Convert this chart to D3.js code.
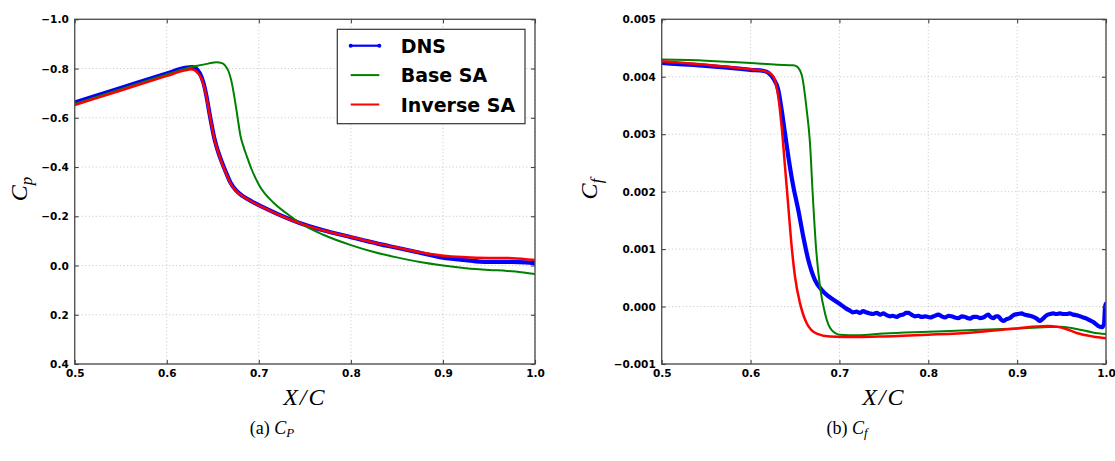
<!DOCTYPE html>
<html>
<head>
<meta charset="utf-8">
<script src="https://cdn.jsdelivr.net/npm/d3@7"></script>
<style>
  html, body { margin: 0; padding: 0; background: #fff; }
  svg { display: block; }
</style>
</head>
<body>
<svg id="fig" width="1115" height="461"></svg>
<script>
// ---- tick values ----
const xTicks  = [0.5, 0.6, 0.7, 0.8, 0.9, 1.0];
const cpTicks = [-1.0, -0.8, -0.6, -0.4, -0.2, 0.0, 0.2, 0.4];
const cfTicks = [-0.001, 0.000, 0.001, 0.002, 0.003, 0.004, 0.005];

// ---- series labels ----
const seriesNames = ["DNS", "Base SA", "Inverse SA"];

// ---- pressure coefficient, [X/C, Cp] ----
const cpDNS = [
  [0.500,-0.662],[0.550,-0.721],[0.600,-0.780],[0.620,-0.803],[0.628,-0.806],[0.632,-0.800],
  [0.636,-0.780],[0.640,-0.740],[0.643,-0.690],[0.647,-0.606],[0.652,-0.512],[0.656,-0.460],
  [0.660,-0.418],[0.665,-0.372],[0.669,-0.338],[0.675,-0.306],[0.683,-0.281],[0.693,-0.259],
  [0.705,-0.236],[0.720,-0.210],[0.745,-0.172],[0.770,-0.143],[0.800,-0.115],[0.830,-0.088],
  [0.850,-0.072],[0.875,-0.052],[0.900,-0.032],[0.925,-0.022],[0.940,-0.016],[0.950,-0.015],
  [0.975,-0.015],[0.990,-0.013],[1.000,-0.010]
];
const cpBase = [
  [0.500,-0.656],[0.550,-0.716],[0.600,-0.776],[0.620,-0.799],[0.632,-0.810],[0.645,-0.820],
  [0.654,-0.826],[0.660,-0.822],[0.663,-0.814],[0.667,-0.790],[0.670,-0.753],[0.674,-0.672],
  [0.677,-0.600],[0.680,-0.528],[0.683,-0.487],[0.687,-0.443],[0.692,-0.392],[0.701,-0.322],
  [0.716,-0.255],[0.730,-0.212],[0.745,-0.172],[0.770,-0.125],[0.800,-0.083],[0.825,-0.055],
  [0.850,-0.033],[0.875,-0.014],[0.900,0.000],[0.925,0.011],[0.950,0.018],[0.970,0.022],
  [0.985,0.027],[1.000,0.035]
];
const cpInv = [
  [0.500,-0.652],[0.550,-0.711],[0.600,-0.770],[0.620,-0.793],[0.626,-0.797],[0.630,-0.794],
  [0.634,-0.780],[0.638,-0.757],[0.643,-0.686],[0.647,-0.604],[0.652,-0.510],[0.656,-0.458],
  [0.660,-0.415],[0.665,-0.370],[0.669,-0.335],[0.675,-0.304],[0.683,-0.280],[0.693,-0.258],
  [0.705,-0.235],[0.720,-0.209],[0.745,-0.171],[0.770,-0.142],[0.800,-0.116],[0.830,-0.089],
  [0.850,-0.073],[0.875,-0.054],[0.900,-0.040],[0.925,-0.034],[0.950,-0.031],[0.975,-0.030],
  [1.000,-0.022]
];

// ---- skin friction coefficient, [X/C, Cf] ----
const cfDNS = [
  [0.500,0.00424],[0.520,0.00422],[0.550,0.00419],[0.580,0.00415],[0.600,0.00412],[0.615,0.00410],
  [0.620,0.00407],[0.6256,0.00397],[0.6312,0.00377],[0.635,0.00342],[0.6388,0.00301],[0.6425,0.00261],
  [0.6481,0.00209],[0.6537,0.00168],[0.6594,0.00121],[0.665,0.00081],[0.6725,0.00046],[0.680,0.00029],
  [0.686,0.00020],[0.6913,0.00014],[0.698,0.00007],[0.7044,0.00000],[0.708,-0.00004],[0.7119,-0.00007],
  [0.715,-0.00010],[0.7194,-0.00009],[0.723,-0.00011],[0.7269,-0.00008],[0.730,-0.00010],[0.7344,-0.00012],
  [0.738,-0.00013],[0.7419,-0.00011],[0.746,-0.00014],[0.7494,-0.00012],[0.753,-0.00015],[0.7569,-0.00017],
  [0.760,-0.00016],[0.7644,-0.00018],[0.768,-0.00015],[0.7719,-0.00014],[0.775,-0.00011],[0.7775,-0.00011],
  [0.781,-0.00014],[0.785,-0.00017],[0.789,-0.00016],[0.7925,-0.00018],[0.797,-0.00017],[0.8019,-0.00019],
  [0.806,-0.00017],[0.8113,-0.00014],[0.815,-0.00017],[0.8188,-0.00019],[0.823,-0.00016],[0.8263,-0.00017],
  [0.830,-0.00019],[0.8338,-0.00020],[0.838,-0.00017],[0.8413,-0.00018],[0.844,-0.00020],[0.8469,-0.00021],
  [0.851,-0.00018],[0.8544,-0.00018],[0.858,-0.00020],[0.8619,-0.00019],[0.865,-0.00016],[0.8676,-0.00014],
  [0.870,-0.00018],[0.8732,-0.00020],[0.876,-0.00017],[0.8788,-0.00017],[0.8815,-0.00022],[0.8844,-0.00025],
  [0.888,-0.00022],[0.8919,-0.00020],[0.895,-0.00016],[0.8976,-0.00014],[0.901,-0.00013],[0.9051,-0.00012],
  [0.908,-0.00014],[0.9107,-0.00015],[0.914,-0.00016],[0.9182,-0.00018],[0.922,-0.00021],[0.9257,-0.00025],
  [0.929,-0.00021],[0.9332,-0.00015],[0.937,-0.00013],[0.9407,-0.00012],[0.944,-0.00013],[0.9482,-0.00012],
  [0.952,-0.00013],[0.9557,-0.00013],[0.959,-0.00012],[0.9632,-0.00014],[0.967,-0.00015],[0.9707,-0.00017],
  [0.9745,-0.00019],[0.9782,-0.00021],[0.982,-0.00024],[0.9857,-0.00027],[0.989,-0.00031],[0.9913,-0.00034],
  [0.9951,-0.00036],[0.9977,-0.00031],[0.999,0.00000],[1.000,0.00005]
];
const cfBase = [
  [0.500,0.00430],[0.550,0.00428],[0.600,0.00424],[0.630,0.00421],[0.648,0.00420],[0.652,0.00418],
  [0.6576,0.00403],[0.6632,0.00342],[0.6669,0.00284],[0.6699,0.00197],[0.6736,0.00104],[0.6781,0.00035],
  [0.6838,-0.00012],[0.6913,-0.00041],[0.7007,-0.00049],[0.720,-0.00050],[0.750,-0.00047],[0.800,-0.00044],
  [0.850,-0.00041],[0.900,-0.00038],[0.930,-0.00036],[0.950,-0.00035],[0.967,-0.00039],[0.985,-0.00045],
  [1.000,-0.00048]
];
const cfInv = [
  [0.500,0.00427],[0.550,0.00421],[0.588,0.00415],[0.600,0.00413],[0.618,0.00409],[0.6256,0.00400],
  [0.6312,0.00365],[0.635,0.00313],[0.6388,0.00243],[0.6425,0.00174],[0.6463,0.00104],[0.650,0.00052],
  [0.6556,0.00006],[0.6632,-0.00029],[0.6744,-0.00047],[0.6894,-0.00052],[0.720,-0.00053],[0.750,-0.00052],
  [0.800,-0.00049],[0.850,-0.00045],[0.880,-0.00041],[0.900,-0.00038],[0.934,-0.00034],[0.945,-0.00035],
  [0.955,-0.00039],[0.967,-0.00046],[0.985,-0.00052],[1.000,-0.00055]
];

// ---- drawing ----
const svg = d3.select("#fig");
const tickFont = "'DejaVu Sans', sans-serif";
const mathFont = "'Liberation Serif', 'DejaVu Serif', serif";
const colors = { DNS: "#0000ff", "Base SA": "#008000", "Inverse SA": "#ff0000" };
const widths = { DNS: 4.2, "Base SA": 2, "Inverse SA": 2.5 };

function drawPanel(p) {
  const x = d3.scaleLinear().domain([0.5, 1.0]).range([p.left, p.right]);
  const y = d3.scaleLinear().domain(p.yDomain).range([p.top, p.bottom]);
  const g = svg.append("g");

  // dotted grid
  const grid = g.append("g").attr("stroke", "#c4c4c4").attr("stroke-width", 1)
    .attr("stroke-dasharray", "1,2.5");
  grid.selectAll(".gx").data(xTicks).join("line")
    .attr("x1", d => x(d)).attr("x2", d => x(d))
    .attr("y1", p.top).attr("y2", p.bottom);
  grid.selectAll(".gy").data(p.yTicks).join("line")
    .attr("y1", d => y(d)).attr("y2", d => y(d))
    .attr("x1", p.left).attr("x2", p.right);

  // clip region for curves
  g.append("clipPath").attr("id", p.id + "-clip")
    .append("rect").attr("x", p.left).attr("y", p.top)
    .attr("width", p.right - p.left).attr("height", p.bottom - p.top);

  const line = d3.line().x(d => x(d[0])).y(d => y(d[1])).curve(d3.curveMonotoneX);
  const curves = g.append("g").attr("clip-path", `url(#${p.id}-clip)`);
  p.series.forEach((s, i) => {
    const name = seriesNames[i];
    curves.append("path").datum(s)
      .attr("fill", "none")
      .attr("stroke", colors[name])
      .attr("stroke-width", widths[name])
      .attr("stroke-linejoin", "round")
      .attr("stroke-linecap", "round")
      .attr("d", line);
  });

  // frame
  g.append("rect").attr("x", p.left).attr("y", p.top)
    .attr("width", p.right - p.left).attr("height", p.bottom - p.top)
    .attr("fill", "none").attr("stroke", "#555").attr("stroke-width", 1.4);

  const styleAxis = sel => {
    sel.select(".domain").remove();
    sel.selectAll(".tick line").attr("stroke", "#444").attr("stroke-width", 1.1);
    sel.attr("font-family", tickFont).attr("font-size", 10.5).attr("font-weight", "bold");
    sel.selectAll(".tick text").attr("fill", "#000");
  };

  g.append("g").attr("transform", `translate(${p.left},0)`)
    .call(d3.axisLeft(y).tickValues(p.yTicks).tickFormat(p.fmt)
      .tickSizeInner(-4).tickSizeOuter(0).tickPadding(6))
    .call(styleAxis)
    .selectAll(".tick text").attr("dy", "0.35em");
  g.append("g").attr("transform", `translate(${p.right},0)`)
    .call(d3.axisRight(y).tickValues(p.yTicks).tickFormat("")
      .tickSizeInner(-4).tickSizeOuter(0))
    .call(styleAxis);
  g.append("g").attr("transform", `translate(0,${p.bottom})`)
    .call(d3.axisBottom(x).tickValues(xTicks).tickFormat(d3.format(".1f"))
      .tickSizeInner(-4).tickSizeOuter(0).tickPadding(6))
    .call(styleAxis);
  g.append("g").attr("transform", `translate(0,${p.top})`)
    .call(d3.axisTop(x).tickValues(xTicks).tickFormat("")
      .tickSizeInner(-4).tickSizeOuter(0))
    .call(styleAxis);

  // x-axis title X/C
  svg.append("text")
    .attr("x", (p.left + p.right) / 2).attr("y", 405)
    .attr("text-anchor", "middle")
    .attr("font-family", mathFont).attr("font-style", "italic")
    .attr("font-size", 24).attr("letter-spacing", 2)
    .text("X/C");

  // y-axis title
  const yt = svg.append("text")
    .attr("transform", `translate(${p.ylabX},189) rotate(-90)`)
    .attr("text-anchor", "middle")
    .attr("font-family", mathFont).attr("font-style", "italic")
    .attr("font-size", 24);
  yt.append("tspan").text("C");
  yt.append("tspan").attr("font-size", 17).attr("dy", 5).text(p.ySub);

  // caption below the panel
  const cap = svg.append("text")
    .attr("x", p.capX).attr("y", 434)
    .attr("text-anchor", "middle")
    .attr("font-family", mathFont).attr("font-size", 18);
  cap.append("tspan").text(p.capTag + " ");
  cap.append("tspan").attr("font-style", "italic").text("C");
  cap.append("tspan").attr("font-style", "italic").attr("font-size", 13)
    .attr("dy", 3).text(p.capSub);

  return { x, y };
}

drawPanel({
  id: "cp", left: 74.7, right: 535, top: 19.3, bottom: 364,
  yDomain: [-1.0, 0.4], yTicks: cpTicks, fmt: d3.format(".1f"),
  series: [cpDNS, cpBase, cpInv],
  ylabX: 27, ySub: "p", capX: 272, capTag: "(a)", capSub: "P"
});

drawPanel({
  id: "cf", left: 661.7, right: 1106, top: 19.3, bottom: 364,
  yDomain: [0.005, -0.001], yTicks: cfTicks, fmt: d3.format(".3f"),
  series: [cfDNS, cfBase, cfInv],
  ylabX: 597, ySub: "f", capX: 847, capTag: "(b)", capSub: "f"
});

// ---- legend (left panel) ----
const leg = svg.append("g");
leg.append("rect").attr("x", 337.3).attr("y", 29.3)
  .attr("width", 187.7).attr("height", 94.4)
  .attr("fill", "#fff").attr("stroke", "#333").attr("stroke-width", 1.2);
const rowY = d3.scalePoint().domain(seriesNames).range([45.7, 104.5]);
seriesNames.forEach(name => {
  const yy = rowY(name);
  leg.append("line").attr("x1", 350.7).attr("x2", 379.3).attr("y1", yy).attr("y2", yy)
    .attr("stroke", colors[name]).attr("stroke-width", name === "DNS" ? 2.2 : 2);
  if (name === "DNS") {
    [350.7, 379.3].forEach(cx => leg.append("circle").attr("cx", cx).attr("cy", yy)
      .attr("r", 2).attr("fill", colors[name]));
  }
  leg.append("text").attr("x", 400.7).attr("y", yy + 7)
    .attr("font-family", tickFont).attr("font-weight", "bold").attr("font-size", 19)
    .attr("fill", "#000").text(name);
});
</script>
</body>
</html>
